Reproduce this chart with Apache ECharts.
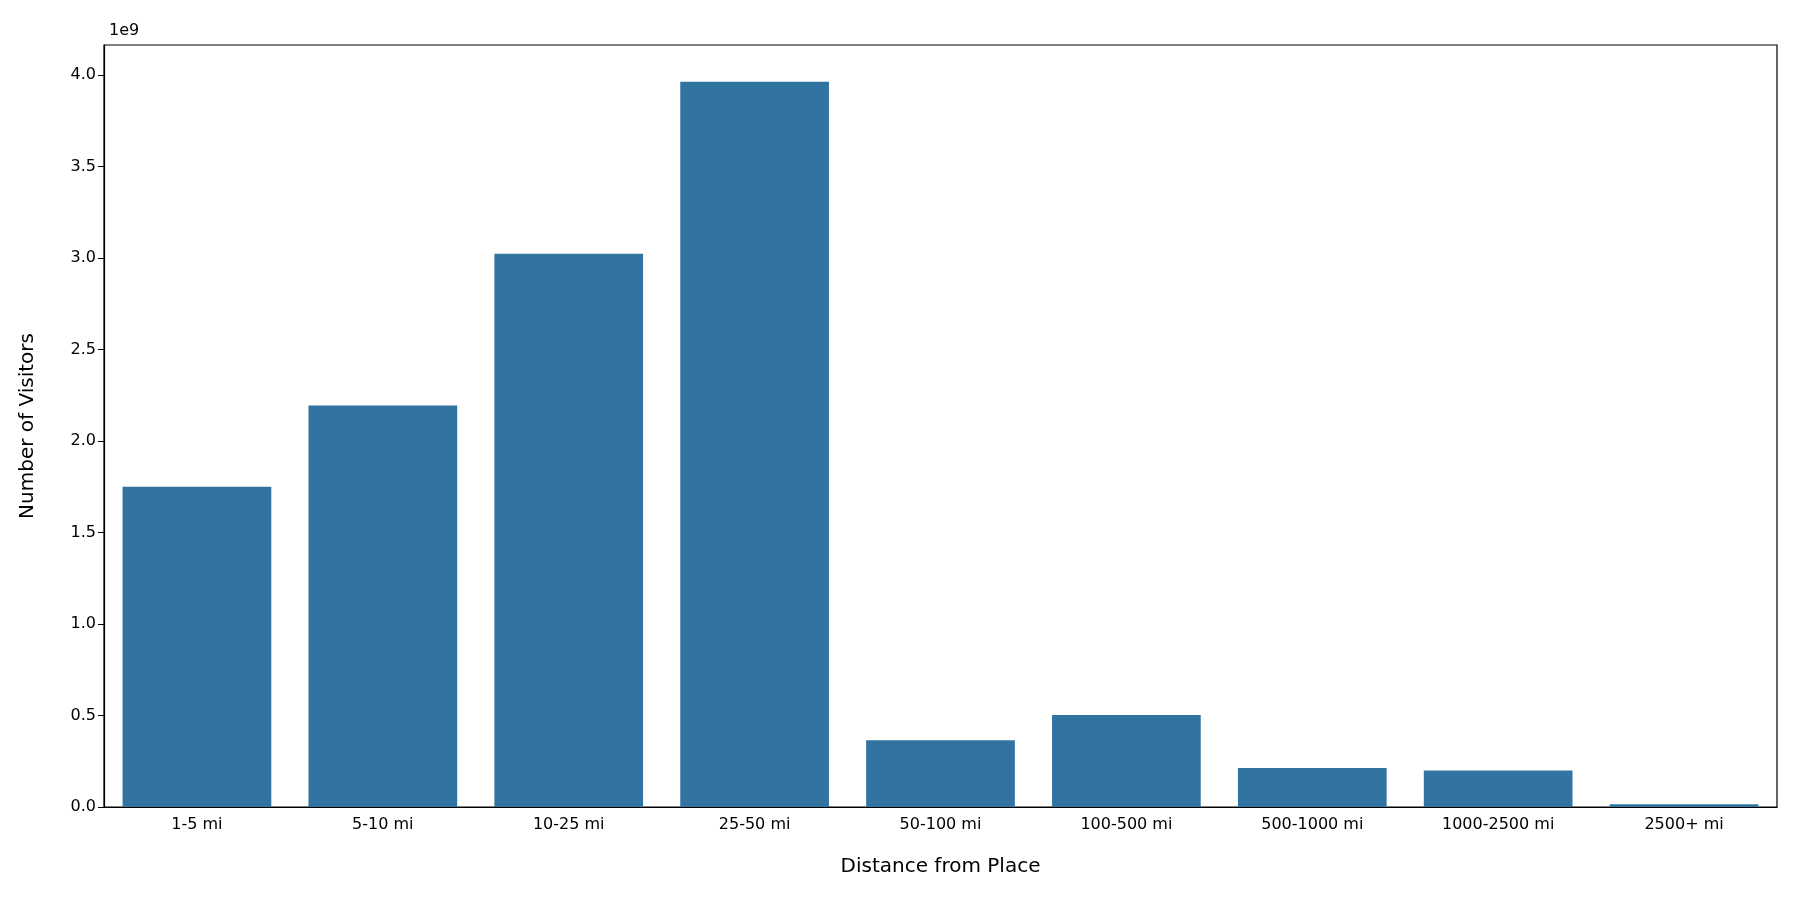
<!DOCTYPE html>
<html><head><meta charset="utf-8">
<script src="https://cdn.jsdelivr.net/npm/echarts@6/dist/echarts.min.js"></script>
<style>html,body{margin:0;padding:0;background:#fff}#c{width:1800px;height:900px}</style>
</head><body><div id="c"></div>
<script>
const categories = ['1-5 mi','5-10 mi','10-25 mi','25-50 mi','50-100 mi','100-500 mi','500-1000 mi','1000-2500 mi','2500+ mi'];
const visitors = [1.749e9, 2.194e9, 3.022e9, 3.962e9, 0.364e9, 0.502e9, 0.213e9, 0.200e9, 0.015e9];
const chart = echarts.init(document.getElementById('c'));
const font = 'DejaVu Sans';
chart.setOption({
  animation:false,
  textStyle:{fontFamily:font},
  grid:{left:104,right:23,top:45,bottom:93,show:true,borderColor:'#000',borderWidth:1.2,containLabel:false},
  title:{text:'1e9',left:104,top:18,textStyle:{fontFamily:font,fontSize:16,fontWeight:'normal',color:'#000'}},
  xAxis:{type:'category',data:categories,name:'Distance from Place',nameLocation:'middle',nameGap:50,
    nameTextStyle:{fontFamily:font,fontSize:20,color:'#000'},
    axisLine:{lineStyle:{color:'#000',width:1.2}},axisTick:{alignWithLabel:true,length:6,lineStyle:{color:'#000'}},
    axisLabel:{fontFamily:font,fontSize:16,color:'#000',margin:10}},
  yAxis:{type:'value',min:0,max:4.163e9,interval:0.5e9,name:'Number of Visitors',nameLocation:'middle',nameGap:66,
    nameTextStyle:{fontFamily:font,fontSize:20,color:'#000'},
    axisLine:{show:true,lineStyle:{color:'#000',width:1.2}},axisTick:{show:true,length:6,lineStyle:{color:'#000'}},
    splitLine:{show:false},
    axisLabel:{fontFamily:font,fontSize:16,color:'#000',formatter:v=>(v/1e9).toFixed(1),showMaxLabel:false}},
  series:[{type:'bar',data:visitors,barWidth:'80%',itemStyle:{color:'#3274a1'}}]
});
</script></body></html>
